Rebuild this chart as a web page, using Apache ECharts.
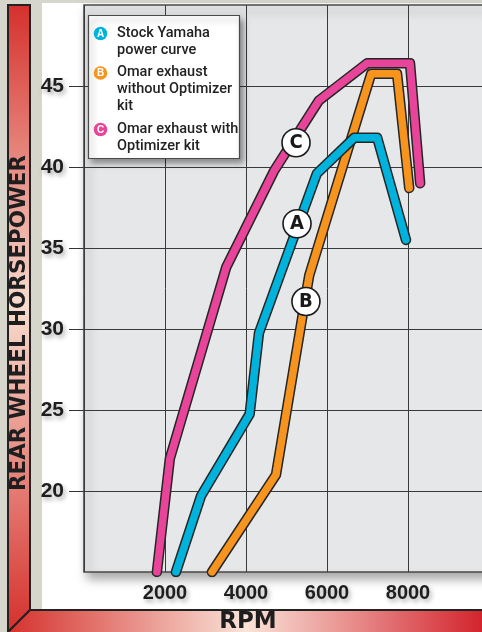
<!DOCTYPE html>
<html>
<head>
<meta charset="utf-8">
<script src="https://cdn.jsdelivr.net/npm/echarts@6/dist/echarts.min.js"></script>
<style>
  html, body { margin: 0; padding: 0; background: #d6d6cc; }
  #main { width: 482px; height: 632px; }
</style>
</head>
<body>
<div id="main"></div>
<script>
// values
var rpmA = [2270, 2890, 4090, 4320, 5750, 6670, 7240, 7950];
var hpA  = [15, 19.7, 24.75, 29.75, 39.6, 41.8, 41.8, 35.5];
var rpmB = [3160, 4740, 5560, 7090, 7730, 8030];
var hpB  = [15, 21, 33.3, 45.75, 45.75, 38.7];
var rpmC = [1800, 2120, 3510, 4690, 5800, 6990, 8050, 8300];
var hpC  = [15, 22, 33.8, 39.75, 44.1, 46.4, 46.4, 39.0];

var xTicks = [2000, 4000, 6000, 8000];
var yTicks = [20, 25, 30, 35, 40, 45];

// where the A/B/C callouts sit on the curves
var calloutNames = ["A", "B", "C"];
var calloutRpm = [5260, 5480, 5235];
var calloutHp = [36.5, 31.7, 41.5];

var legendLetters = ["A", "B", "C"];
var legendLabels = ["Stock Yamaha\npower curve", "Omar exhaust\nwithout Optimizer\nkit", "Omar exhaust with\nOptimizer kit"];
var colors = { A: "#00b3dc", B: "#f7941e", C: "#e8449a" };

var sans = "'Liberation Sans', Arial, sans-serif";

function pairs(xs, ys) {
  return xs.map(function (x, i) { return [x, ys[i]]; });
}

function curve(name, xs, ys, z) {
  var d = pairs(xs, ys);
  return [
    { type: "line", name: name + "-edge", data: d, z: z, showSymbol: false, silent: true,
      lineStyle: { color: "#262626", width: 10.5, cap: "round", join: "round" } },
    { type: "line", name: name, data: d, z: z + 1, showSymbol: false, silent: true,
      lineStyle: { color: colors[name], width: 7.5, cap: "round", join: "round" } }
  ];
}

var myChart = echarts.init(document.getElementById("main"));

var legendItems = [];
var legendY = [33.5, 73, 129.5];
legendLetters.forEach(function (l, i) {
  legendItems.push({ type: "circle", shape: { cx: 100.5, cy: legendY[i], r: 6.8 }, style: { fill: colors[l] }, z: 101 });
  legendItems.push({ type: "text", x: 100.5, y: legendY[i] + 0.5, z: 102,
    style: { text: l, fill: "#fff", font: "bold 10px " + sans, align: "center", verticalAlign: "middle" } });
  legendItems.push({ type: "text", x: 117, y: legendY[i] - 8.5, z: 102,
    style: { text: legendLabels[i], fill: "#222", font: "500 14.5px Roboto, sans-serif", lineHeight: 16.6, verticalAlign: "top" } });
});

var series = []
  .concat(curve("C", rpmC, hpC, 2))
  .concat(curve("B", rpmB, hpB, 4))
  .concat(curve("A", rpmA, hpA, 6));

series.push({
  type: "scatter", z: 10, silent: true,
  data: calloutNames.map(function (n, i) { return { value: [calloutRpm[i], calloutHp[i]], name: n }; }),
  symbol: "circle", symbolSize: 28,
  itemStyle: { color: "#fff", borderColor: "#1a1a1a", borderWidth: 1.6, opacity: 1 },
  label: { show: true, position: "inside", formatter: "{b}", color: "#1a1a1a", fontSize: 20, fontWeight: "bold", fontFamily: "'DejaVu Sans Condensed', " + sans }
});

myChart.setOption({
  animation: false,
  backgroundColor: "#d6d6cc",
  grid: {
    left: 84, width: 405, top: 5, bottom: 60, show: true,
    outerBoundsMode: "none", containLabel: false,
    backgroundColor: "#e6e7e9", borderColor: "#4a4a4a", borderWidth: 1.6,
    shadowColor: "rgba(0,0,0,0.35)", shadowBlur: 10, shadowOffsetX: 4, shadowOffsetY: 6
  },
  xAxis: {
    type: "value", min: 0, max: 10000, interval: 2000,
    axisLine: { show: false }, axisTick: { show: false },
    splitLine: { lineStyle: { color: "#3a3a3a", width: 1 } },
    axisLabel: {
      customValues: xTicks, margin: 11, color: "#1e1e1e", fontSize: 20, fontWeight: "bold", fontFamily: sans,
      formatter: function (v) { return String(v); },
      textShadowColor: "rgba(0,0,0,0.3)", textShadowBlur: 4, textShadowOffsetX: 2, textShadowOffsetY: 3
    }
  },
  yAxis: {
    type: "value", min: 15, max: 50, interval: 5,
    axisLine: { show: false },
    axisTick: { show: true, customValues: yTicks, length: 15, lineStyle: { color: "#333", width: 1 } },
    splitLine: { lineStyle: { color: "#3a3a3a", width: 1 } },
    axisLabel: {
      customValues: yTicks, margin: 20, color: "#1e1e1e", fontSize: 21, fontWeight: "bold", fontFamily: sans,
      textShadowColor: "rgba(0,0,0,0.3)", textShadowBlur: 4, textShadowOffsetX: 2, textShadowOffsetY: 3
    }
  },
  graphic: [
    // white panel behind the plot
    { type: "rect", z: -20, shape: { x: 42, y: 3, width: 442, height: 607 }, style: { fill: "#fff" } },
    // left title bar
    { type: "polygon", z: -10, shape: { points: [[8, 5], [30, 5], [30, 610], [8, 632]] },
      style: { stroke: "#222", lineWidth: 2,
        fill: new echarts.graphic.LinearGradient(0, 0, 0, 1, [
          { offset: 0, color: "#d5302c" }, { offset: 0.48, color: "#f7dccf" }, { offset: 1, color: "#d5302c" }]) } },
    // bottom title bar
    { type: "polygon", z: -10, shape: { points: [[30, 610], [486, 610], [486, 636], [6, 636], [8, 632]] },
      style: { stroke: "#222", lineWidth: 2,
        fill: new echarts.graphic.LinearGradient(0, 0, 1, 0, [
          { offset: 0, color: "#d5302c" }, { offset: 0.5, color: "#f9e3d8" }, { offset: 1, color: "#d2202a" }]) } },
    { type: "text", z: 5, x: 19.5, y: 323, rotation: Math.PI / 2,
      style: { text: "REAR WHEEL HORSEPOWER", fill: "#1e1e1e", font: "bold 21.5px 'DejaVu Sans', sans-serif", align: "center", verticalAlign: "middle" } },
    { type: "text", z: 5, x: 248, y: 622,
      style: { text: "RPM", fill: "#1e1e1e", font: "bold 23px 'DejaVu Sans', sans-serif", align: "center", verticalAlign: "middle" } },
    // legend box
    { type: "rect", z: 100, shape: { x: 88.5, y: 15.5, width: 151, height: 143 },
      style: { fill: "#fff", stroke: "#4a4a4a", lineWidth: 1.2, shadowColor: "rgba(0,0,0,0.4)", shadowBlur: 6, shadowOffsetX: 3, shadowOffsetY: 4 } }
  ].concat(legendItems),
  series: series
});
</script>
</body>
</html>
